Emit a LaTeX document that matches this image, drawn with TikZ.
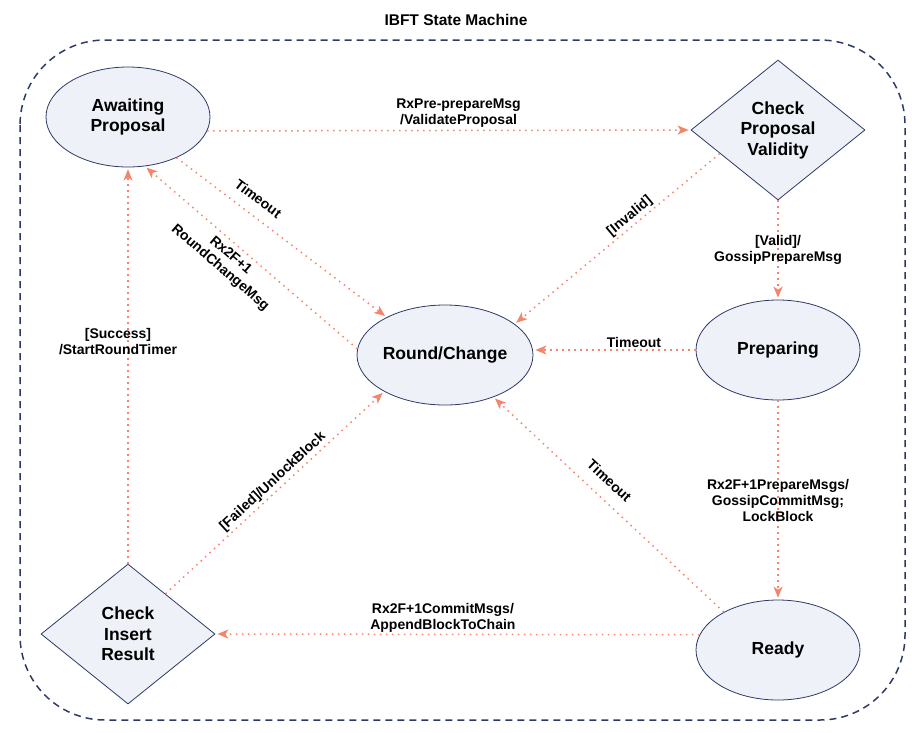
\documentclass[tikz,border=0pt]{standalone}
\usepackage{fontspec}
\setmainfont{Liberation Sans}
\usetikzlibrary{shapes.geometric,arrows.meta}
\definecolor{navy}{HTML}{2E3A66}
\definecolor{stfill}{HTML}{EEF1F8}
\definecolor{salmon}{HTML}{F4846C}

\begin{document}
\begin{tikzpicture}[x=1pt,y=-1pt]
	\tikzset{StateStyle/.style =
		{draw = navy,
			fill = stfill,
			line width = 0.8pt,
			shape = ellipse,
			inner sep = 0pt,
			minimum width = 164pt,
			minimum height = 100pt,
			align = center,
			font = \fontsize{17.5}{20.5}\selectfont\bfseries},
		CheckStyle/.style = {StateStyle, shape = diamond,
			minimum width = 174pt, minimum height = 140pt},
		EdgeStyle/.style = {salmon, line width = 1.5pt,
			dash pattern = on 1.5pt off 4.5pt, shorten > = 2pt,
			-{Stealth[length = 11pt, width = 9pt, inset = 3pt]}},
		LabelStyle/.style = {text = black, align = center, inner sep = 2pt,
			font = \fontsize{14}{16}\selectfont\bfseries}}
	\useasboundingbox (0,0) rectangle (912,732);
	\draw[navy, line width = 1.5pt, dash pattern = on 7pt off 5pt,
		rounded corners = 85pt] (20,40) rectangle (905,720);
	\node[font = \fontsize{15.5}{18}\selectfont\bfseries] (title) at (456,20) {IBFT State Machine};
	% states
	\node[StateStyle] (aw) at (128,117) {Awaiting\\Proposal};
	\node[CheckStyle] (cpv) at (778,130) {Check\\Proposal\\Validity};
	\node[StateStyle] (rc) at (445,355) {Round/Change};
	\node[StateStyle] (prep) at (778,350) {Preparing};
	\node[StateStyle] (ready) at (778,650) {Ready};
	\node[CheckStyle] (cir) at (128,634) {Check\\Insert\\Result};
	% transitions
	\draw[EdgeStyle] (aw.-10) -- node[LabelStyle, above, pos = 0.52] {RxPre-prepareMsg\\/ValidateProposal} (cpv.west);
	\draw[EdgeStyle] (aw.-40) -- node[LabelStyle, sloped, above = 9pt, pos = 0.34] {Timeout} (rc.147);
	\draw[EdgeStyle] (rc.176) -- node[LabelStyle, sloped, below = 3pt, pos = 0.56] {Rx2F+1\\RoundChangeMsg} (aw.-71);
	\draw[EdgeStyle] (cpv.-158) -- node[LabelStyle, sloped, above, pos = 0.41] {[Invalid]} (rc.24);
	\draw[EdgeStyle] (cpv.south) -- node[LabelStyle] {[Valid]/\\GossipPrepareMsg} (prep.north);
	\draw[EdgeStyle] (prep.west) -- node[LabelStyle, above, pos = 0.38] {Timeout} (prep.west -| rc.east);
	\draw[EdgeStyle] (prep.south) -- node[LabelStyle] {Rx2F+1PrepareMsgs/\\GossipCommitMsg;\\LockBlock} (ready.north);
	\draw[EdgeStyle] (ready.145) -- node[LabelStyle, sloped, above = 10pt, pos = 0.55] {Timeout} (rc.-41);
	\draw[EdgeStyle] (ready.169) -- node[LabelStyle, above, pos = 0.53, inner sep = 1pt] {Rx2F+1CommitMsgs/\\AppendBlockToChain} (cir.east);
	\draw[EdgeStyle] (cir.47) -- node[LabelStyle, sloped, above, pos = 0.52] {[Failed]/UnlockBlock} (rc.-149);
	\draw[EdgeStyle] (cir.north) -- node[LabelStyle, pos = 0.56, xshift = -10pt] {[Success]\\/StartRoundTimer} (aw.south);
\end{tikzpicture}
\end{document}
